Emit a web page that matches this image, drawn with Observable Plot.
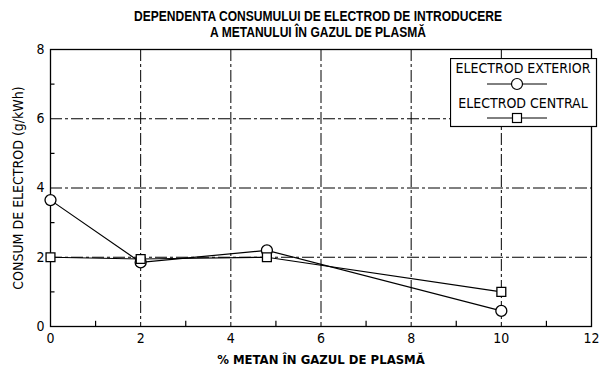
<!DOCTYPE html>
<html><head><meta charset="utf-8">
<script src="https://cdn.jsdelivr.net/npm/d3@7"></script>
<script src="https://cdn.jsdelivr.net/npm/@observablehq/plot@0.6"></script>
<style>
body{margin:0;background:#fff;font-family:"DejaVu Sans Condensed","Liberation Sans",sans-serif;}
#wrap{position:relative;width:603px;height:372px;}
#title{position:absolute;left:0;top:8px;width:636px;text-align:center;font-weight:bold;font-size:14px;line-height:16px;color:#000;font-family:"Liberation Sans",sans-serif;transform:scaleX(0.86);transform-origin:318px 0;}
#chart{position:absolute;left:0;top:40px;}
#legend{position:absolute;left:450px;top:58px;}
</style></head>
<body><div id="wrap">
<div id="title">DEPENDENTA CONSUMULUI DE ELECTROD DE INTRODUCERE<br>A METANULUI ÎN GAZUL DE PLASMĂ</div>
<div id="chart"></div>
<div id="legend"></div>
</div>
<script>
const metan = [0, 2, 4.8, 10];
const exterior = [3.65, 1.85, 2.2, 0.45];
const central = [2.0, 1.95, 2.0, 1.0];
const seriesNames = ["ELECTROD EXTERIOR", "ELECTROD CENTRAL"];
const xTicks = [0, 2, 4, 6, 8, 10, 12];
const yTicks = [0, 2, 4, 6, 8];
const xGrid = [2, 4, 6, 8, 10];
const yGrid = [2, 4, 6];
const xMinor = [1, 3, 5, 7, 9, 11];
const yMinor = [1, 3, 5, 7];

const ext = metan.map((x, i) => ({x, y: exterior[i]}));
const cen = metan.map((x, i) => ({x, y: central[i]}));

const fontStyle = {fontFamily: '"DejaVu Sans Condensed",sans-serif', fontSize: "13px", color: "#000", background: "transparent"};

const plot = Plot.plot({
  width: 603, height: 332,
  marginLeft: 50, marginRight: 12, marginTop: 9, marginBottom: 46,
  style: fontStyle,
  x: {domain: [0, 12]},
  y: {domain: [0, 8]},
  marks: [
    Plot.ruleX(xGrid, {stroke: "#000", strokeWidth: 1, strokeDasharray: "12,3,3,3"}),
    Plot.ruleY(yGrid, {stroke: "#000", strokeWidth: 1, strokeDasharray: "12,3,3,3"}),
    Plot.frame({stroke: "#000", strokeWidth: 1.3}),
    Plot.ruleX(xMinor, {y1: 0, y2: 0.15, stroke: "#000", strokeWidth: 1.2}),
    Plot.ruleY(yMinor, {x1: 0, x2: 0.1, stroke: "#000", strokeWidth: 1.2}),
    Plot.axisX(xTicks, {tickSize: 0, tickPadding: 7, fontSize: 14, label: "% METAN ÎN GAZUL DE PLASMĂ", labelAnchor: "center", labelOffset: 37, labelArrow: "none"}),
    Plot.axisY(yTicks, {tickSize: 0, tickPadding: 6, fontSize: 14, label: "CONSUM DE ELECTROD (g/kWh)", labelAnchor: "center", labelOffset: 37, labelArrow: "none"}),
    Plot.line(ext, {x: "x", y: "y", stroke: "#000", strokeWidth: 1.2}),
    Plot.line(cen, {x: "x", y: "y", stroke: "#000", strokeWidth: 1.2}),
    Plot.dot(ext, {x: "x", y: "y", r: 5.5, symbol: "circle", stroke: "#000", fill: "#fff", strokeWidth: 1.3}),
    Plot.dot(cen, {x: "x", y: "y", r: 5, symbol: "square", stroke: "#000", fill: "#fff", strokeWidth: 1.3})
  ]
});
plot.querySelectorAll("[aria-label='x-axis label'] text").forEach(t => { t.style.fontWeight = "bold"; t.style.fontSize = "13px"; });
plot.querySelectorAll("[aria-label='y-axis label'] text").forEach(t => { t.style.fontSize = "14px"; });
document.getElementById("chart").appendChild(plot);

// legend
const svg = d3.select("#legend").append("svg").attr("width", 150).attr("height", 72)
  .style("font-family", '"DejaVu Sans Condensed",sans-serif').style("font-size", "14px");
svg.append("rect").attr("x", 0.5).attr("y", 0.5).attr("width", 146).attr("height", 68).attr("fill", "#fff").attr("stroke", "#000").attr("stroke-width", 1.2);
const rows = [{name: seriesNames[0], sym: "circle", ty: 15, sy: 26}, {name: seriesNames[1], sym: "square", ty: 50, sy: 60}];
rows.forEach(r => {
  svg.append("text").attr("x", 73).attr("y", r.ty).attr("text-anchor", "middle").text(r.name);
  svg.append("line").attr("x1", 37).attr("x2", 97).attr("y1", r.sy).attr("y2", r.sy).attr("stroke", "#000");
  if (r.sym === "circle") svg.append("circle").attr("cx", 67).attr("cy", r.sy).attr("r", 5.5).attr("fill", "#fff").attr("stroke", "#000").attr("stroke-width", 1.2);
  else svg.append("rect").attr("x", 62.5).attr("y", r.sy - 4.5).attr("width", 9).attr("height", 9).attr("fill", "#fff").attr("stroke", "#000").attr("stroke-width", 1.2);
});
</script>
</body></html>
